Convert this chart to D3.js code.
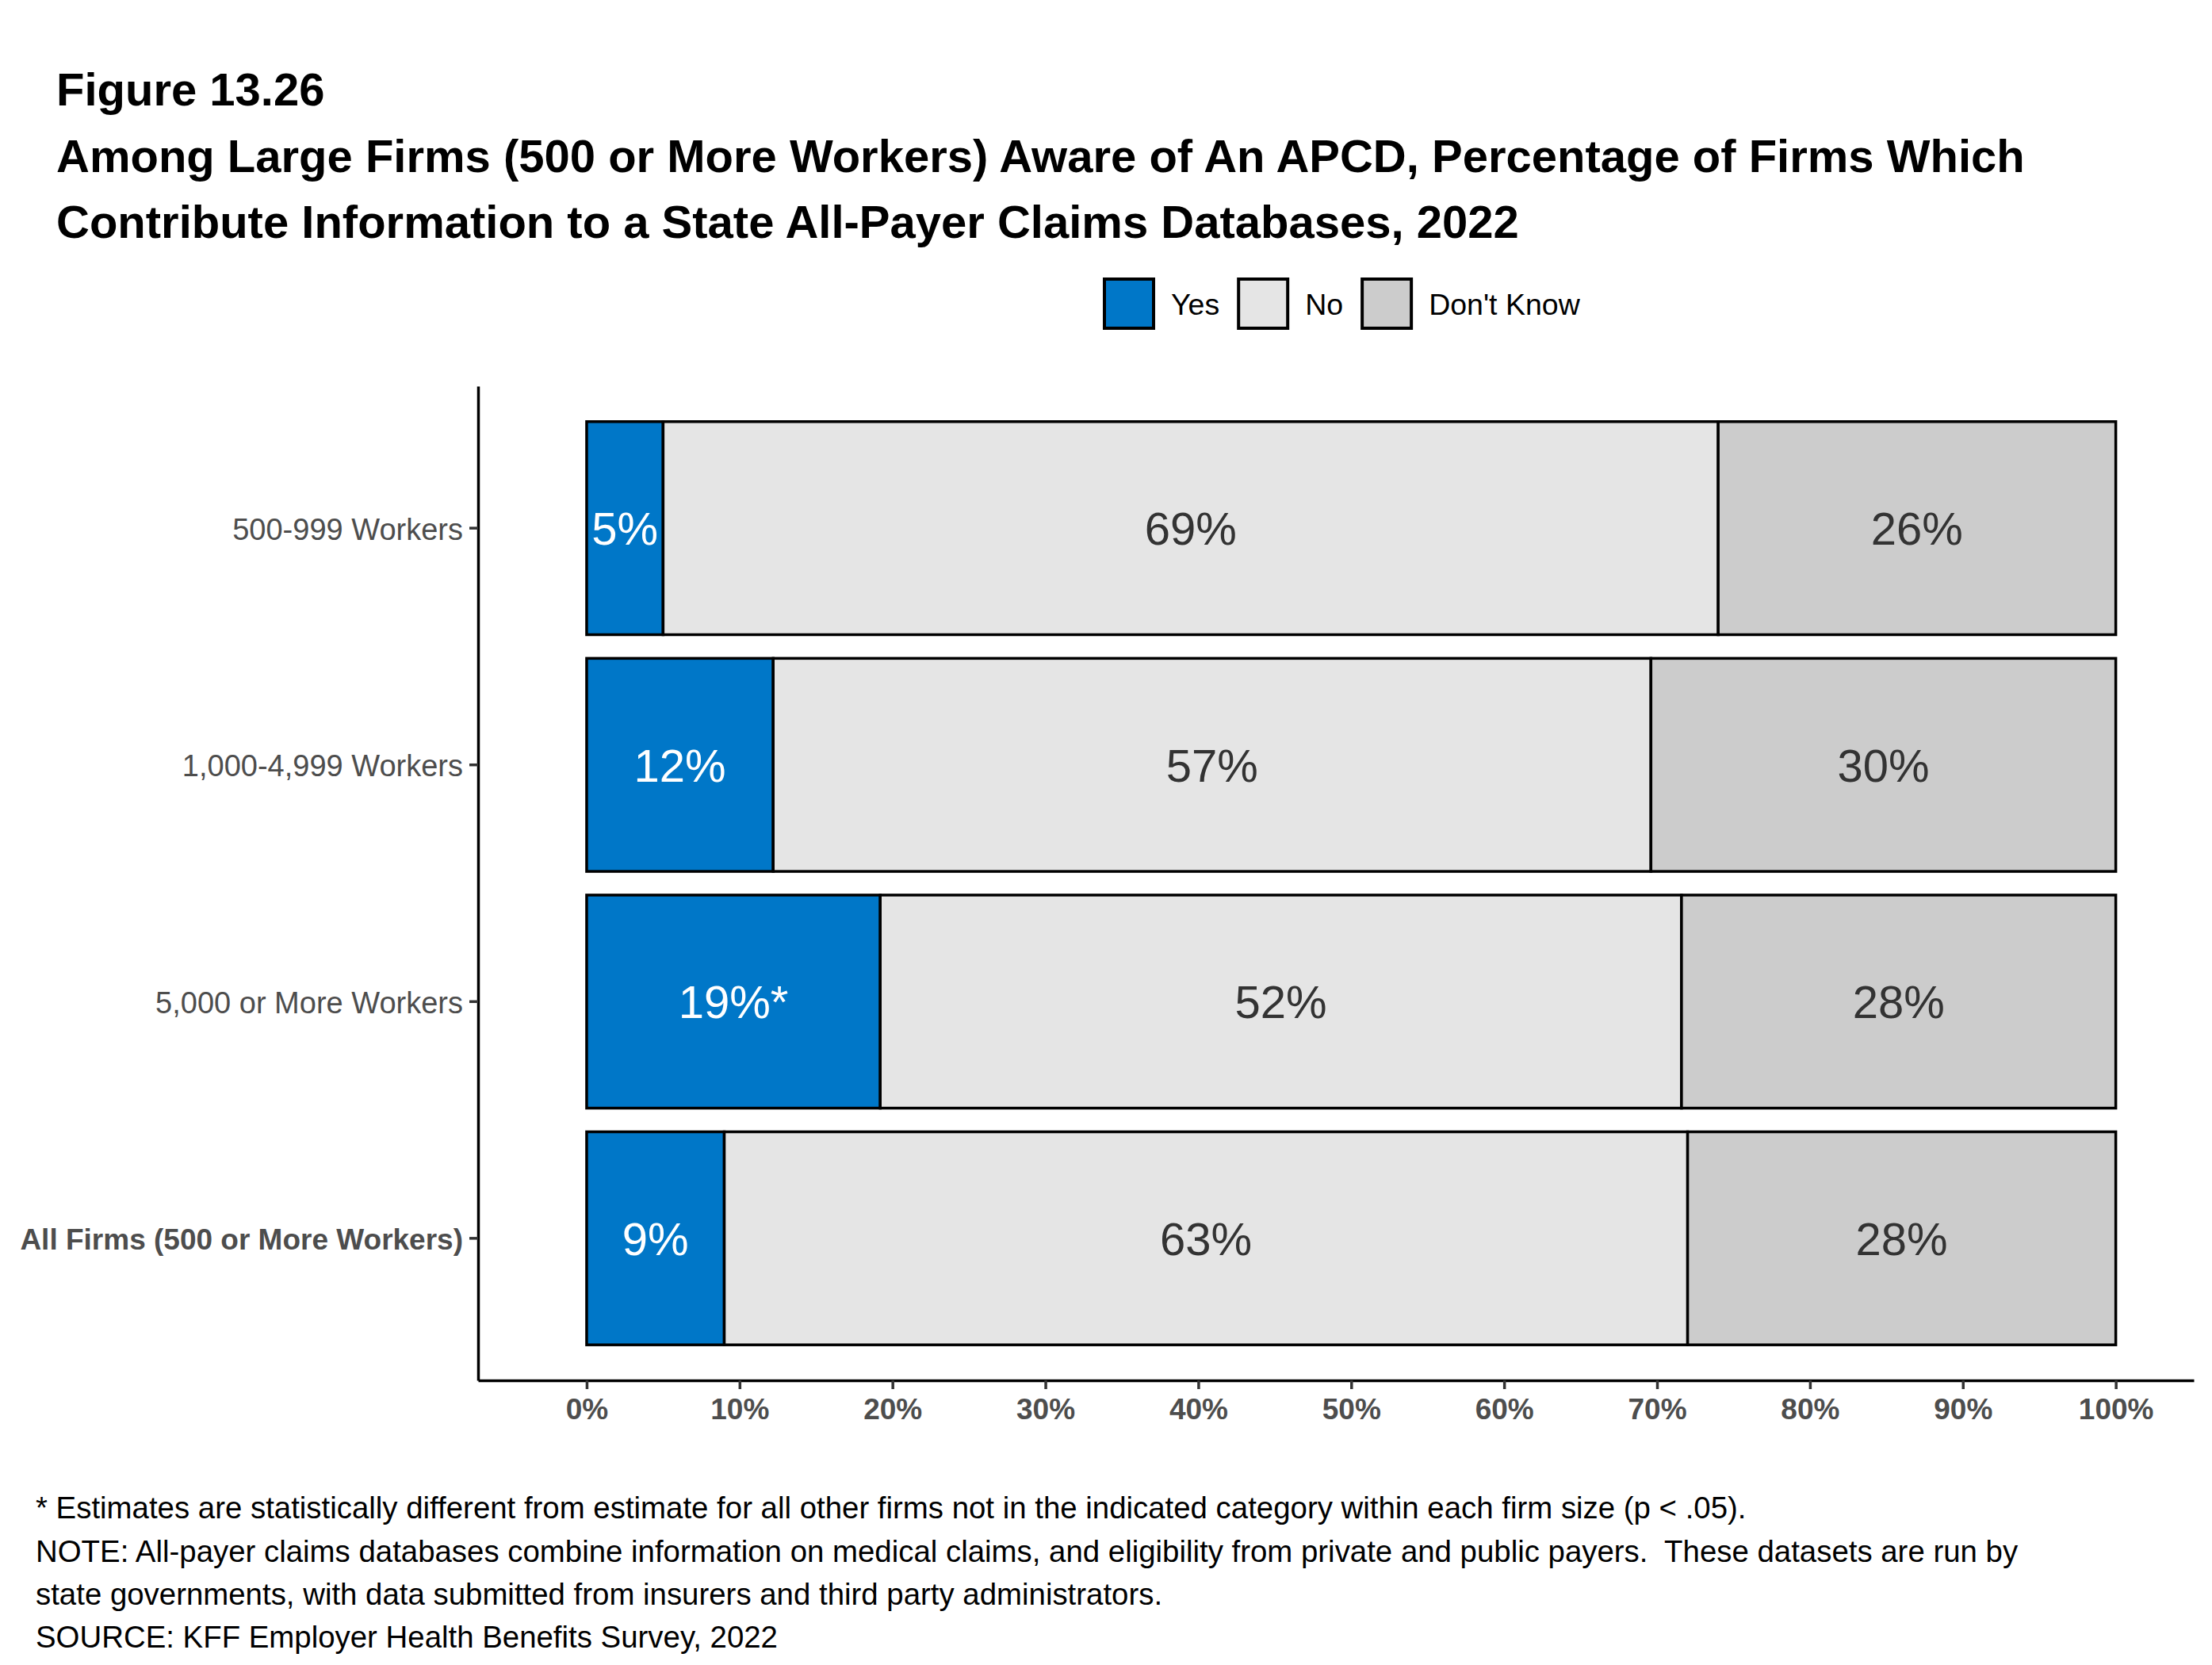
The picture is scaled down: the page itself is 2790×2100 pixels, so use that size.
<!DOCTYPE html>
<html>
<head>
<meta charset="utf-8">
<script src="https://cdn.jsdelivr.net/npm/d3@7"></script>
<style>
  body { margin: 0; background: #fff; }
  svg { display: block; font-family: Arial, "Liberation Sans", sans-serif; }
</style>
</head>
<body>
<svg id="chart" width="2790" height="2100"></svg>
<script>
'use strict';
// firm size groups, top to bottom
const categories = ["500-999 Workers", "1,000-4,999 Workers", "5,000 or More Workers", "All Firms (500 or More Workers)"];
const seriesNames = ["Yes", "No", "Don't Know"];
const yesValues = [5.0, 12.2, 19.2, 9.0];
const noValues = [69.0, 57.4, 52.4, 63.0];
const dontKnowValues = [26.0, 30.4, 28.4, 28.0];
const yesStars = ["", "", "*", ""];
const xTicks = [0, 10, 20, 30, 40, 50, 60, 70, 80, 90, 100];

const titleLines = [
    "Figure 13.26",
    "Among Large Firms (500 or More Workers) Aware of An APCD, Percentage of Firms Which",
    "Contribute Information to a State All-Payer Claims Databases, 2022"
];
const notes = [
    "* Estimates are statistically different from estimate for all other firms not in the indicated category within each firm size (p < .05).",
    "NOTE: All-payer claims databases combine information on medical claims, and eligibility from private and public payers.  These datasets are run by",
    "state governments, with data submitted from insurers and third party administrators.",
    "SOURCE: KFF Employer Health Benefits Survey, 2022"
];

const colors = ["#0077c8", "#e5e5e5", "#cccccc"];
const labelColors = ["#ffffff", "#333333", "#333333"];

let svg = d3.select("#chart");

// titles
svg.selectAll("text.title").data(titleLines).enter().append("text")
    .attr("class", "title")
    .attr("x", 71)
    .attr("y", (d, i) => [133, 217, 300][i])
    .attr("font-size", 58)
    .attr("font-weight", "bold")
    .attr("fill", "#000")
    .text(d => d);

// stack the data
let rows = categories.map((c, i) => ({cat: c, "Yes": yesValues[i], "No": noValues[i], "Don't Know": dontKnowValues[i], star: yesStars[i]}));
let stack = d3.stack().keys(seriesNames)(rows);

let x = d3.scaleLinear().domain([-7.1, 105.1]).range([603, 2767]);
let y = d3.scaleBand().domain(categories).range([487, 1741]).paddingInner(0.1).paddingOuter(0.15);

// bars
let layers = svg.selectAll("g.layer").data(stack).enter().append("g")
    .attr("class", "layer")
    .attr("fill", (d, i) => colors[i]);

layers.selectAll("rect").data(d => d).enter().append("rect")
    .attr("x", d => x(d[0]))
    .attr("y", d => y(d.data.cat))
    .attr("width", d => x(d[1]) - x(d[0]))
    .attr("height", y.bandwidth())
    .attr("stroke", "#000")
    .attr("stroke-width", 3.5);

// value labels
stack.forEach((layer, li) => {
    svg.append("g").selectAll("text").data(layer).enter().append("text")
        .attr("x", d => (x(d[0]) + x(d[1])) / 2)
        .attr("y", d => y(d.data.cat) + y.bandwidth() / 2)
        .attr("dy", "0.36em")
        .attr("text-anchor", "middle")
        .attr("font-size", 58)
        .attr("fill", labelColors[li])
        .text(d => Math.round(d[1] - d[0]) + "%" + (li === 0 ? d.data.star : ""));
});

// axes
let xAxis = svg.append("g")
    .attr("transform", "translate(0,1741)")
    .call(d3.axisBottom(x).tickValues(xTicks).tickFormat(d => d + "%").tickSize(11).tickSizeOuter(0).tickPadding(12));
let yAxis = svg.append("g")
    .attr("transform", "translate(603,0)")
    .call(d3.axisLeft(y).tickSize(11).tickSizeOuter(0).tickPadding(8));

[xAxis, yAxis].forEach(a => {
    a.select(".domain").attr("stroke", "#000").attr("stroke-width", 3.5);
    a.selectAll(".tick line").attr("stroke", "#333").attr("stroke-width", 3.5);
    a.selectAll(".tick text").attr("fill", "#4d4d4d")
        .attr("font-family", "Arial, 'Liberation Sans', sans-serif");
});
xAxis.selectAll(".tick text").attr("font-weight", "bold").attr("font-size", 37);
yAxis.selectAll(".tick text")
    .attr("dy", "0.38em")
    .attr("font-weight", d => d === categories[3] ? "bold" : "normal")
    .attr("font-size", d => d === categories[3] ? 37 : 38);

// legend
let legend = svg.append("g");
let lx = 1391;
seriesNames.forEach((name, i) => {
    legend.append("rect")
        .attr("x", lx + 2).attr("y", 352)
        .attr("width", 62).attr("height", 62)
        .attr("fill", colors[i])
        .attr("stroke", "#000").attr("stroke-width", 4);
    let t = legend.append("text")
        .attr("x", lx + 86).attr("y", 383)
        .attr("dy", "0.36em")
        .attr("font-size", 37.5)
        .attr("fill", "#000")
        .text(name);
    lx = lx + 86 + t.node().getComputedTextLength() + 22;
});

// notes
svg.selectAll("text.note").data(notes).enter().append("text")
    .attr("class", "note")
    .attr("x", 45)
    .attr("y", (d, i) => [1915, 1970, 2024, 2078][i])
    .attr("font-size", 38.4)
    .attr("fill", "#000")
    .style("white-space", "pre")
    .text(d => d);
</script>
</body>
</html>
